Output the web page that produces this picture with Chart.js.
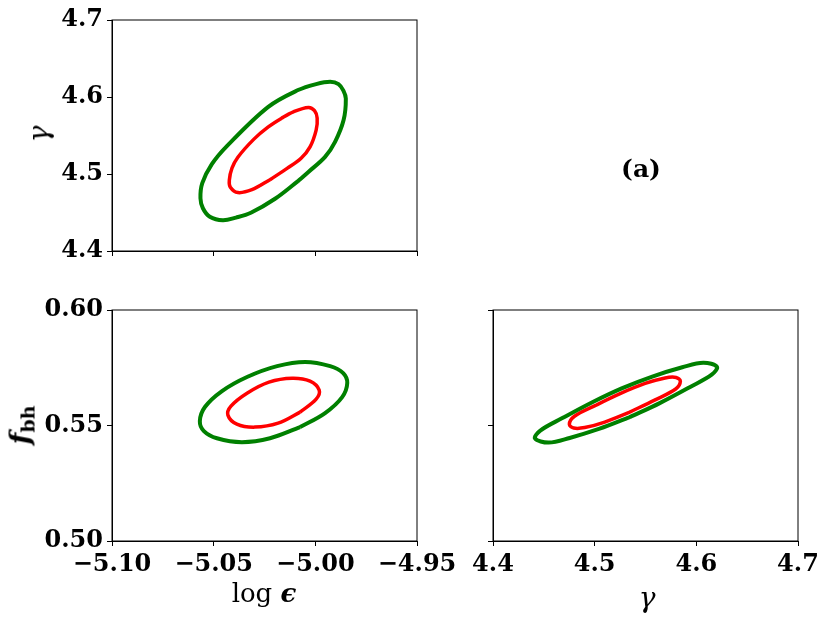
<!DOCTYPE html>
<html>
<head>
<meta charset="utf-8">
<script src="https://cdn.jsdelivr.net/npm/chart.js@4.4.1/dist/chart.umd.min.js"></script>
<style>
  body { margin: 0; background: #fff; }
  #wrap { position: relative; width: 830px; height: 619px; overflow: hidden; background: #fff; }
  #wrap canvas { position: absolute; left: 0; top: 0; }
  .lbl { position: absolute; transform: translate(-50%, -50%); font-family: 'DejaVu Serif', serif; color: #000; white-space: nowrap; line-height: 1; }
  .rot { transform: translate(-50%, -50%) rotate(-90deg); }
</style>
</head>
<body>
<div id="wrap">
  <canvas id="c1" width="830" height="619"></canvas>
  <canvas id="c2" width="830" height="619"></canvas>
  <canvas id="c3" width="830" height="619"></canvas>
  <div class="lbl rot" style="left:39px;top:134px;font-size:28px;font-style:italic">γ</div>
  <div class="lbl rot" style="left:20px;top:425px;font-size:27px"><b><i>f</i></b><b style="font-size:19px;position:relative;top:5px">bh</b></div>
  <div class="lbl" style="left:264px;top:593px;font-size:26px">log <b><i>ϵ</i></b></div>
  <div class="lbl" style="left:647px;top:598px;font-size:28px;font-style:italic">γ</div>
  <div class="lbl" style="left:641px;top:168px;font-size:25px;font-weight:bold">(a)</div>
</div>
<script>
  'use strict';

  /* tick values */
  const epsTicks = [-5.10, -5.05, -5.00, -4.95];
  const gammaTicks = [4.4, 4.5, 4.6, 4.7];
  const fbhTicks = [0.50, 0.55, 0.60];

  /* log eps vs gamma contours */
  const epsGammaOuterX = [-5.0087, -5.0198, -5.0317, -5.0390, -5.0455, -5.0519, -5.0553, -5.0565, -5.0556, -5.0509, -5.0435, -5.0233, -5.0085, -4.9996, -4.9927, -4.9886, -4.9862, -4.9850, -4.9861, -4.9903, -4.9952, -5.0034, -5.0087];
  const epsGammaOuterY = [4.4904, 4.4679, 4.4497, 4.4434, 4.4399, 4.4445, 4.4555, 4.4685, 4.4880, 4.5127, 4.5362, 4.5869, 4.6090, 4.6168, 4.6198, 4.6168, 4.6083, 4.5979, 4.5700, 4.5417, 4.5222, 4.5027, 4.4904];
  const epsGammaInnerX = [-5.0223, -5.0312, -5.0381, -5.0418, -5.0423, -5.0410, -5.0381, -5.0302, -5.0233, -5.0165, -5.0108, -5.0034, -5.0004, -4.9991, -4.9996, -5.0026, -5.0070, -5.0139, -5.0223];
  const epsGammaInnerY = [4.4926, 4.4796, 4.4759, 4.4828, 4.4919, 4.5075, 4.5218, 4.5453, 4.5609, 4.5726, 4.5808, 4.5865, 4.5823, 4.5726, 4.5570, 4.5352, 4.5205, 4.5073, 4.4926];

  /* log eps vs f_bh contours */
  const epsFbhOuterX = [-5.0075, -5.0223, -5.0361, -5.0484, -5.0548, -5.0568, -5.0543, -5.0459, -5.0336, -5.0188, -5.0050, -4.9927, -4.9863, -4.9843, -4.9868, -4.9952, -5.0075];
  const epsFbhOuterY = [0.5493, 0.5445, 0.5428, 0.5445, 0.5476, 0.5519, 0.5580, 0.5649, 0.5710, 0.5757, 0.5775, 0.5757, 0.5727, 0.5684, 0.5623, 0.5554, 0.5493];
  const epsFbhInnerX = [-5.0075, -5.0183, -5.0297, -5.0386, -5.0430, -5.0415, -5.0336, -5.0228, -5.0114, -5.0026, -4.9981, -4.9996, -5.0075];
  const epsFbhInnerY = [0.5558, 0.5510, 0.5493, 0.5506, 0.5545, 0.5584, 0.5640, 0.5688, 0.5705, 0.5692, 0.5653, 0.5614, 0.5558];

  /* gamma vs f_bh contours */
  const gammaFbhOuterX = [4.5345, 4.5049, 4.4754, 4.4548, 4.4413, 4.4465, 4.4682, 4.4977, 4.5272, 4.5567, 4.5862, 4.6068, 4.6203, 4.6151, 4.5935, 4.5640, 4.5345];
  const gammaFbhOuterY = [0.5536, 0.5486, 0.5446, 0.5426, 0.5444, 0.5478, 0.5532, 0.5601, 0.5662, 0.5712, 0.5752, 0.5772, 0.5754, 0.5720, 0.5666, 0.5597, 0.5536];
  const gammaFbhInnerX = [4.5345, 4.5099, 4.4902, 4.4794, 4.4751, 4.4798, 4.5004, 4.5250, 4.5496, 4.5693, 4.5801, 4.5843, 4.5797, 4.5590, 4.5345];
  const gammaFbhInnerY = [0.5558, 0.5515, 0.5491, 0.5489, 0.5505, 0.5539, 0.5586, 0.5638, 0.5682, 0.5706, 0.5708, 0.5692, 0.5658, 0.5610, 0.5558];

  function toPoints(xs, ys) {
    return xs.map(function (x, i) { return { x: x, y: ys[i] }; });
  }

  // box around each plot area
  const frame = {
    id: 'frame',
    afterDraw: function (chart) {
      const a = chart.chartArea;
      const ctx = chart.ctx;
      ctx.save();
      ctx.strokeStyle = '#000';
      ctx.lineWidth = 1;
      ctx.strokeRect(a.left, a.top, a.right - a.left, a.bottom - a.top);
      ctx.restore();
    }
  };

  function axis(ticks, digits, showLabels, size, isX) {
    return {
      type: 'linear',
      min: ticks[0],
      max: ticks[ticks.length - 1],
      afterBuildTicks: function (s) { s.ticks = ticks.map(function (v) { return { value: v }; }); },
      afterFit: function (s) { if (isX) { s.height = size; } else { s.width = size; } },
      grid: { drawOnChartArea: false, drawTicks: true, tickLength: 5, tickColor: '#000', tickWidth: 1 },
      border: { color: '#000', width: 1 },
      ticks: {
        display: showLabels,
        padding: 4,
        color: '#000',
        maxRotation: 0,
        minRotation: 0,
        autoSkip: false,
        font: { family: 'DejaVu Serif', size: 24, weight: 'bold' },
        callback: function (v) { return Number(v).toFixed(digits).replace('-', '\u2212'); }
      }
    };
  }

  function makePanel(id, outer, inner, xAxis, yAxis, pad) {
    // eslint-disable-next-line no-undef
    return new Chart(document.getElementById(id), {
      type: 'scatter',
      data: {
        datasets: [
          { data: outer, showLine: true, borderColor: '#008000', borderWidth: 4, pointRadius: 0, tension: 0.35, fill: false },
          { data: inner, showLine: true, borderColor: '#ff0000', borderWidth: 3.5, pointRadius: 0, tension: 0.35, fill: false }
        ]
      },
      options: {
        responsive: false,
        animation: false,
        layout: { padding: pad },
        plugins: { legend: { display: false }, tooltip: { enabled: false } },
        scales: { x: xAxis, y: yAxis }
      },
      plugins: [frame]
    });
  }

  makePanel('c1',
    toPoints(epsGammaOuterX, epsGammaOuterY),
    toPoints(epsGammaInnerX, epsGammaInnerY),
    axis(epsTicks, 2, false, 10, true),
    axis(gammaTicks, 1, true, 112, false),
    { left: 0, top: 20, right: 413, bottom: 358 });

  makePanel('c2',
    toPoints(epsFbhOuterX, epsFbhOuterY),
    toPoints(epsFbhInnerX, epsFbhInnerY),
    axis(epsTicks, 2, true, 40, true),
    axis(fbhTicks, 2, true, 112, false),
    { left: 0, top: 310, right: 413, bottom: 38 });

  makePanel('c3',
    toPoints(gammaFbhOuterX, gammaFbhOuterY),
    toPoints(gammaFbhInnerX, gammaFbhInnerY),
    axis(gammaTicks, 1, true, 40, true),
    axis(fbhTicks, 2, false, 10, false),
    { left: 483, top: 310, right: 32, bottom: 38 });
</script>
</body>
</html>
